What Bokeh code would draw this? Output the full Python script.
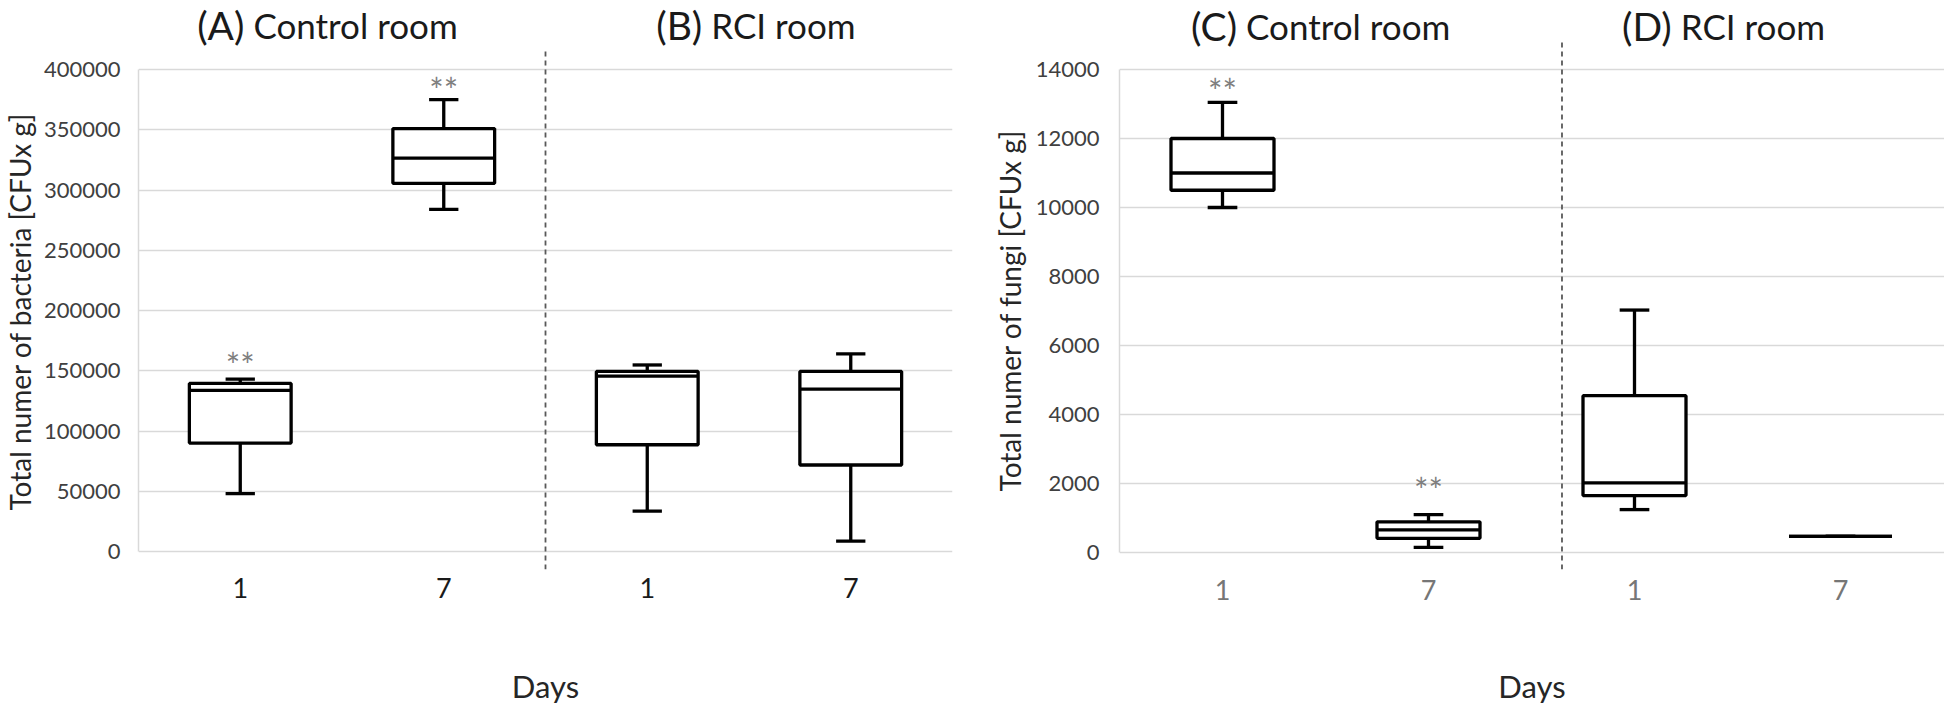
import math
from bokeh.plotting import figure
from bokeh.layouts import row
from bokeh.models import FixedTicker, BasicTickFormatter, Label, Range1d
from bokeh.core.properties import value
from bokeh.embed import file_html
from bokeh.resources import INLINE

# ---------------- data ----------------
days = ["1", "7", "1", "7"]
bact_panels = ["(A)", "(B)"]
fungi_panels = ["(C)", "(D)"]
rooms = ["Control room", "RCI room"]

bact_low = [48000, 284000, 33500, 8600]
bact_q1 = [90000, 305500, 88600, 71800]
bact_med = [133700, 326500, 145600, 134800]
bact_q3 = [139500, 351000, 149400, 149400]
bact_high = [143000, 375000, 154800, 164000]
bact_star = [158500, 386700, None, None]
bact_ticks = [0, 50000, 100000, 150000, 200000, 250000, 300000, 350000, 400000]

fungi_low = [10000, 147, 1244, 467]
fungi_q1 = [10500, 410, 1650, 467]
fungi_med = [11000, 655, 2020, 467]
fungi_q3 = [12000, 890, 4545, 467]
fungi_high = [13050, 1095, 7027, 467]
fungi_star = [13510, 1950, None, None]
fungi_ticks = [0, 2000, 4000, 6000, 8000, 10000, 12000, 14000]

bact_ylabel = "Total numer of bacteria [CFUx g]"
fungi_ylabel = "Total numer of fungi [CFUx g]"
xlabel = "Days"

FONT = "Lato"
H = 709
BB = 140            # bottom border shared by every plot of the row
FRAME_BOTTOM = H - BB


def ylabel_strip(text, width, cx, cy):
    """Narrow figure holding the rotated y-axis title."""
    s = figure(width=width, height=H, output_backend="svg", toolbar_location=None,
               min_border_left=0, min_border_right=0, min_border_top=0, min_border_bottom=BB,
               x_range=Range1d(0, 1), y_range=Range1d(0, 1))
    s.axis.visible = False
    s.grid.visible = False
    s.outline_line_color = None
    s.add_layout(Label(x=cx, y=FRAME_BOTTOM - cy, x_units="screen", y_units="screen",
                       angle=math.pi / 2, text=text, text_align="center",
                       text_baseline="middle", text_font=FONT, text_font_size="28px",
                       text_color="#262626"))
    return s


def make_panel(low, q1, med, q3, high, stars, ticks, panels, *,
               width, bl, br, gap_top, gap_bottom, dash_top_px, x_end,
               sep_x, title_x, title_dy, xlab_color, xtick_standoff, xlabel_standoff,
               ytick_standoff):
    ymax = ticks[-1]
    frame_h = FRAME_BOTTOM
    ppu = (frame_h - gap_top - gap_bottom) / ymax
    y_end = ymax + gap_top / ppu
    y_start = -gap_bottom / ppu
    y_dash_top = ymax + dash_top_px / ppu

    p = figure(width=width, height=H, output_backend="svg",
               toolbar_location=None, x_range=Range1d(0, x_end),
               y_range=Range1d(y_start, y_end),
               min_border_left=bl, min_border_right=br,
               min_border_top=0, min_border_bottom=BB)
    p.outline_line_color = None
    p.background_fill_color = "white"
    p.border_fill_color = "white"

    centers = [i + 0.5 for i in range(len(days))]
    half = 0.25
    cap = 0.072
    lw = 3.3

    # y axis
    yt = FixedTicker(ticks=ticks)
    p.yaxis.ticker = yt
    p.yaxis.formatter = BasicTickFormatter(use_scientific=False)
    p.yaxis.bounds = (0, ymax)
    p.yaxis.axis_line_color = "#d9d9d9"
    p.yaxis.axis_line_width = 1.5
    p.yaxis.major_tick_line_color = None
    p.yaxis.minor_tick_line_color = None
    p.yaxis.major_label_standoff = ytick_standoff
    p.yaxis.major_label_text_font = FONT
    p.yaxis.major_label_text_font_size = "22px"
    p.yaxis.major_label_text_color = "#404040"
    p.ygrid.ticker = yt
    p.ygrid.grid_line_color = "#d9d9d9"
    p.ygrid.grid_line_width = 1.5
    p.xgrid.visible = False

    # x axis
    p.xaxis.ticker = FixedTicker(ticks=centers)
    p.xaxis.major_label_overrides = {c: d for c, d in zip(centers, days)}
    p.xaxis.axis_line_color = None
    p.xaxis.major_tick_line_color = None
    p.xaxis.minor_tick_line_color = None
    p.xaxis.major_label_standoff = xtick_standoff
    p.xaxis.major_label_text_font = FONT
    p.xaxis.major_label_text_font_size = "27px"
    p.xaxis.major_label_text_color = xlab_color
    p.xaxis.axis_label = xlabel
    p.xaxis.axis_label_text_font = FONT
    p.xaxis.axis_label_text_font_size = "31px"
    p.xaxis.axis_label_text_font_style = "normal"
    p.xaxis.axis_label_text_color = "#262626"
    p.xaxis.axis_label_standoff = xlabel_standoff

    # separator between the two rooms
    p.segment(x0=[sep_x], y0=[y_start], x1=[sep_x], y1=[y_dash_top],
              line_color="#595959", line_dash="5 4", line_width=1.8)

    # whiskers
    p.segment(x0=centers, y0=q3, x1=centers, y1=high, line_color="black", line_width=lw)
    p.segment(x0=centers, y0=q1, x1=centers, y1=low, line_color="black", line_width=lw)
    p.segment(x0=[c - cap for c in centers], y0=high, x1=[c + cap for c in centers], y1=high,
              line_color="black", line_width=lw)
    p.segment(x0=[c - cap for c in centers], y0=low, x1=[c + cap for c in centers], y1=low,
              line_color="black", line_width=lw)
    # boxes
    p.vbar(x=centers, width=2 * half, bottom=q1, top=q3, fill_color="white",
           line_color="black", line_width=lw)
    p.segment(x0=[c - half for c in centers], y0=med, x1=[c + half for c in centers], y1=med,
              line_color="black", line_width=lw)

    # significance marks
    sx = [c for c, s in zip(centers, stars) if s is not None]
    sy = [s for s in stars if s is not None]
    p.text(x=sx, y=sy, text=["**"] * len(sx), text_align="center",
           text_baseline="middle", y_offset=4, text_font=value(FONT),
           text_font_size="34px", text_color="#7f7f7f")

    # panel titles
    for tx, pan, room in zip(title_x, panels, rooms):
        p.add_layout(Label(x=tx, y=ymax, y_offset=title_dy, x_offset=-4, text=pan,
                           text_align="right", text_baseline="middle",
                           text_font=FONT, text_font_size="39px", text_color="#1a1a1a"))
        p.add_layout(Label(x=tx, y=ymax, y_offset=title_dy, x_offset=5, text=room,
                           text_align="left", text_baseline="middle",
                           text_font=FONT, text_font_size="35px", text_color="#1a1a1a"))
    return p


s1 = ylabel_strip(bact_ylabel, width=39, cx=19, cy=311)
p1 = make_panel(bact_low, bact_q1, bact_med, bact_q3, bact_high, bact_star, bact_ticks,
                bact_panels,
                width=949, bl=99, br=36,
                gap_top=69, gap_bottom=18, dash_top_px=19, x_end=4.0, sep_x=2.0,
                title_x=[0.54, 2.79], title_dy=45,
                xlab_color="#1a1a1a", xtick_standoff=2, xlabel_standoff=66,
                ytick_standoff=12)

s2 = ylabel_strip(fungi_ylabel, width=42, cx=21, cy=310)
p2 = make_panel(fungi_low, fungi_q1, fungi_med, fungi_q3, fungi_high, fungi_star, fungi_ticks,
                fungi_panels,
                width=914, bl=89, br=0,
                gap_top=69, gap_bottom=17, dash_top_px=31, x_end=4.0 * 825 / 824, sep_x=2.148,
                title_x=[0.59, 2.70], title_dy=44,
                xlab_color="#767676", xtick_standoff=4, xlabel_standoff=64,
                ytick_standoff=14)

layout = row(s1, p1, s2, p2)
open("out.html", "w").write(file_html(layout, INLINE))
